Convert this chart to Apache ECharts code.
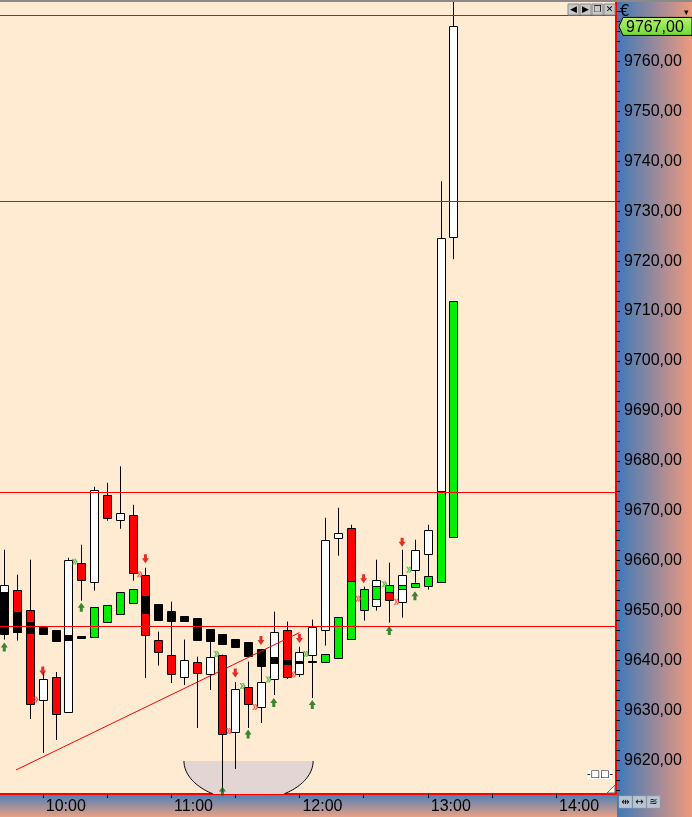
<!DOCTYPE html>
<html><head><meta charset="utf-8">
<script src="https://cdn.jsdelivr.net/npm/echarts@6/dist/echarts.min.js"></script>
<style>html,body{margin:0;padding:0;background:#fff}#c{width:692px;height:817px}</style>
</head><body><div id="c"></div>
<script>
// ---- data ----
const times = ["09:42","09:48","09:54","10:00","10:06","10:12","10:18","10:24","10:30","10:36","10:42","10:48","10:54","11:00","11:06","11:12","11:18","11:24","11:30","11:36","11:42","11:48","11:54","12:00","12:06","12:12","12:18","12:24","12:30","12:36","12:42","12:48","12:54","13:00","13:06","13:12"];
const opens  = [9645.6,9654.2,9650.2,9632.1,9636.7,9629.7,9659.6,9655.8,9673.2,9668.2,9669.2,9657.2,9644.2,9641.2,9636.7,9639.8,9637.3,9641.2,9625.7,9634.7,9630.7,9636.3,9646.2,9637.3,9641.2,9646.2,9664.6,9666.6,9650.5,9651.0,9655.2,9651.8,9658.2,9661.4,9655.8,9724.8];
const closes = [9655.2,9645.8,9631.3,9636.3,9629.3,9660.2,9656.2,9674.2,9668.6,9669.6,9657.6,9645.2,9641.8,9637.3,9640.2,9637.5,9640.8,9625.3,9634.3,9631.3,9635.7,9645.8,9636.7,9641.8,9646.8,9664.2,9665.6,9644.4,9650.3,9656.2,9652.2,9657.2,9662.2,9666.2,9724.6,9767.0];
const lows   = [9644.2,9644.0,9628.3,9621.5,9624.1,9629.7,9652.0,9654.0,9668.0,9666.4,9656.0,9636.5,9639.0,9635.5,9635.1,9626.5,9634.1,9613.7,9618.3,9626.5,9627.5,9633.1,9636.3,9636.7,9632.5,9643.0,9661.0,9644.4,9648.0,9650.0,9647.6,9648.6,9655.6,9654.2,9655.8,9720.4];
const highs  = [9662.2,9657.2,9660.2,9637.7,9637.7,9660.6,9663.2,9674.8,9675.6,9678.9,9671.2,9658.6,9645.8,9651.8,9644.2,9640.8,9644.0,9641.2,9635.7,9639.8,9639.0,9649.8,9647.8,9642.8,9648.2,9668.6,9670.6,9667.2,9654.8,9660.2,9659.6,9662.2,9664.2,9667.2,9736.0,9773.0];
const boxOpens  = [9653.8,9649.8,9647.8,9646.8,9646.2,9645.2,9645.0,9644.8,9647.8,9649.4,9651.6,9653.0,9651.4,9650.0,9649.0,9648.6,9646.4,9645.4,9644.4,9643.8,9642.4,9640.8,9640.2,9640.0,9639.9,9639.8,9640.6,9644.4,9650.2,9652.4,9653.8,9654.4,9654.8,9655.0,9655.8,9664.8];
const boxCloses = [9645.4,9645.8,9645.6,9645.4,9644.0,9644.2,9644.6,9650.8,9651.2,9653.8,9654.4,9649.6,9648.2,9648.0,9648.0,9644.2,9644.0,9643.4,9642.8,9641.0,9639.0,9639.6,9639.4,9639.6,9639.7,9641.4,9648.8,9656.0,9654.4,9655.0,9655.2,9655.2,9655.6,9657.0,9674.0,9712.1];
const levelLines = [9769.3, 9732.0, 9673.8, 9647.0];
const trendLineTimes = ["09:47.5","12:00"];
const trendLinePrices = [9618.1, 9645.6];
const downArrowTimes = ["10:00","10:48","11:30","11:42","12:00","12:30","12:48"];
const downArrowPrices = [9637.9,9660.4,9637.5,9644.0,9644.4,9656.4,9663.7];
const upArrowTimes = ["09:42","10:18","11:24","11:36","11:48","12:06","12:42","12:54"];
const upArrowPrices = [9642.7,9650.7,9613.9,9625.3,9631.6,9631.2,9646.0,9653.0];
const greenMarkTimes = [614.9,681.3,693.4,705.6,723.1,759.8,771.3];
const greenMarkPrices = [9659.8,9641.3,9634.9,9636.2,9641.3,9655.3,9658.2];
const redMarkTimes = [596.6,645.3,687.1,699.3,717.3,747.5,765.5];
const redMarkPrices = [9632.2,9657.3,9625.9,9630.7,9637.2,9652.4,9651.8];
const bowl = {center: 696.2, level: 9619.9, halfWidth: 30.2, depth: 7.9};
const xTickLabels = ["10:00","11:00","12:00","13:00","14:00"];
const xMinorTicks = ["10:00","10:30","11:00","11:30","12:00","12:30","13:00","13:30","14:00"];
const yTickLabels = [9620,9630,9640,9650,9660,9670,9680,9690,9700,9710,9720,9730,9740,9750,9760];
const lastPrice = 9767.0;
const xMin = 580, xMax = 868, yMin = 9613.28, yMax = 9771.89;

// ---- helpers ----
function toMin(s){ const [h,m] = s.split(':'); return (+h)*60 + parseFloat(m); }
function fmtTime(v){ const h=Math.floor(v/60), m=Math.round(v%60); return (h<10?'0':'')+h+':'+(m<10?'0':'')+m; }
function fmtPrice(v){ return v.toFixed(2).replace('.',','); }
const tVals = times.map(toMin);
const candleData = tVals.map((t,i)=>[t, opens[i], closes[i], lows[i], highs[i]]);
const boxData = tVals.map((t,i)=>[t, boxOpens[i], boxCloses[i]]);
const yMinorTicks = []; for (let v=9614; v<=9770; v+=2) yMinorTicks.push(v);

function renderCandle(params, api){
  const t=api.value(0), o=api.value(1), c=api.value(2), l=api.value(3), h=api.value(4);
  const pO=api.coord([t,o]), pC=api.coord([t,c]), pL=api.coord([t,l]), pH=api.coord([t,h]);
  const w = api.size([6,0])[0]*0.64;
  const xc = Math.round(pO[0]);
  const top = Math.round(Math.min(pO[1],pC[1])), bot = Math.round(Math.max(pO[1],pC[1]));
  const fill = c>o ? '#ffffff' : (c<o ? '#ff0000' : '#000000');
  const x0 = Math.round(xc - w/2) + 0.5;
  return {type:'group', children:[
    {type:'line', shape:{x1:xc+0.5,y1:pH[1],x2:xc+0.5,y2:pL[1]}, style:{stroke:'#000',lineWidth:1}},
    {type:'rect', shape:{x:x0, y:top+0.5, width:Math.round(w), height:Math.max(bot-top,1)}, style:{fill:fill, stroke:'#000', lineWidth:1}}
  ]};
}
function renderBox(params, api){
  const t=api.value(0), o=api.value(1), c=api.value(2);
  const pO=api.coord([t,o]), pC=api.coord([t,c]);
  const w = api.size([6,0])[0]*0.64;
  const xc = Math.round(pO[0]);
  const top = Math.round(Math.min(pO[1],pC[1])), bot = Math.round(Math.max(pO[1],pC[1]));
  const fill = c>o ? '#00ee00' : '#000000';
  const x0 = Math.round(xc - w/2) + 0.5;
  return {type:'rect', shape:{x:x0, y:top+0.5, width:Math.round(w), height:Math.max(bot-top,1)}, style:{fill:fill, stroke:'#000', lineWidth:1}};
}
function renderLevel(params, api){
  const p = api.coord([api.value(0), api.value(1)]);
  const y = Math.round(p[1]) + 0.5;
  const cs = params.coordSys;
  return {type:'line', shape:{x1:cs.x, y1:y, x2:cs.x+cs.width, y2:y}, style:{stroke:'#ff0000', lineWidth:1}};
}
function renderBowl(params, api){
  const cx=api.value(0), cy=api.value(1), a=api.value(2), b=api.value(3);
  const pts=[], segs=[]; let cur=[];
  for (let k=0;k<=80;k++){
    const th=Math.PI*k/80;
    const t=cx - a*Math.cos(th); let p=cy - b*Math.sin(th);
    const clamped = p < yMin; if (clamped) p = yMin;
    const pt=api.coord([t,p]); pts.push(pt);
    if (!clamped) cur.push(pt); else { if (cur.length>1) segs.push(cur); cur=[]; }
  }
  if (cur.length>1) segs.push(cur);
  const children=[{type:'polygon', shape:{points:pts}, style:{fill:'#e3d5d4'}}];
  segs.forEach(s=>children.push({type:'polyline', shape:{points:s}, style:{stroke:'#000', lineWidth:1, fill:null}}));
  return {type:'group', children};
}

const downPath = 'path://M2,0L5,0L5,4L7,4L3.5,9L0,4L2,4Z';
const upPath = 'path://M3.5,0L7,5L5,5L5,9L2,9L2,5L0,5Z';
const chevPath = 'path://M0,0L2,0L4.5,3.5L2,7L0,7L2.5,3.5Z M3,0L5,0L7.5,3.5L5,7L3,7L5.5,3.5Z';

const chart = echarts.init(document.getElementById('c'), null, {renderer:'canvas'});
const FONT = 'Liberation Sans';
const option = {
  animation:false,
  backgroundColor:'#ffffff',
  grid:{left:0, right:76, top:2, bottom:23, show:true, backgroundColor:'#ffebd1', borderWidth:0, containLabel:false},
  xAxis:{type:'value', min:xMin, max:xMax, splitLine:{show:false},
    axisLine:{show:true, onZero:false, lineStyle:{color:'#ff0000', width:2}},
    axisTick:{show:true, length:4, lineStyle:{color:'#000'}, customValues: xMinorTicks.map(toMin)},
    axisLabel:{show:true, customValues: xTickLabels.map(toMin), formatter:v=>fmtTime(v), align:'left', padding:[0,0,0,3], margin:5, color:'#000', fontFamily:FONT, fontSize:16}
  },
  yAxis:{type:'value', position:'right', min:yMin, max:yMax, scale:true, splitLine:{show:false},
    axisLine:{show:true, lineStyle:{color:'#ff0000', width:2}},
    axisTick:{show:true, length:4, lineStyle:{color:'#000'}, customValues: yMinorTicks},
    axisLabel:{show:true, customValues: yTickLabels, formatter:v=>fmtPrice(v), margin:8, color:'#000', fontFamily:FONT, fontSize:16}
  },
  series:[
    {type:'custom', name:'bowl', renderItem:renderBowl, data:[[bowl.center, bowl.level, bowl.halfWidth, bowl.depth]], encode:{x:0,y:1}, z:1, silent:true, clip:true},
    {type:'custom', name:'candles', renderItem:renderCandle, data:candleData, encode:{x:0, y:[1,2,3,4]}, z:3, silent:true, clip:true},
    {type:'custom', name:'boxes', renderItem:renderBox, data:boxData, encode:{x:0, y:[1,2]}, z:4, silent:true, clip:true},
    {type:'custom', name:'levels', renderItem:renderLevel, data:levelLines.map(v=>[xMin, v]), encode:{x:0, y:1}, z:5, silent:true, clip:true},
    {type:'line', name:'trend', data:trendLineTimes.map((t,i)=>[toMin(t), trendLinePrices[i]]), symbol:'none', lineStyle:{color:'#ff0000', width:1}, z:5, silent:true},
    {type:'scatter', name:'down', data:downArrowTimes.map((t,i)=>[toMin(t), downArrowPrices[i]]), symbol:downPath, symbolSize:[7,9], itemStyle:{color:'#d80000'}, z:6, silent:true},
    {type:'scatter', name:'up', data:upArrowTimes.map((t,i)=>[toMin(t), upArrowPrices[i]]), symbol:upPath, symbolSize:[7,9], itemStyle:{color:'#0a6a0a'}, z:6, silent:true},
    {type:'scatter', name:'gmark', data:greenMarkTimes.map((t,i)=>[t, greenMarkPrices[i]]), symbol:chevPath, symbolSize:[6,6], itemStyle:{color:'#2aa82a', opacity:0.75}, z:6, silent:true},
    {type:'scatter', name:'rmark', data:redMarkTimes.map((t,i)=>[t, redMarkPrices[i]]), symbol:chevPath, symbolSize:[6,6], itemStyle:{color:'#ff3030', opacity:0.75}, z:6, silent:true}
  ],
  graphic:[
    {type:'rect', z:-5, shape:{x:617, y:0, width:75, height:817}, style:{fill:new echarts.graphic.LinearGradient(0,0,1,0,[{offset:0,color:'#4079b8'},{offset:1,color:'#ee9a7e'}])}},
    {type:'rect', z:-5, shape:{x:0, y:795, width:617, height:22}, style:{fill:new echarts.graphic.LinearGradient(0,0,0,1,[{offset:0,color:'#5080b6'},{offset:1,color:'#e8a084'}])}},
    {type:'rect', z:10, shape:{x:0, y:0, width:692, height:2}, style:{fill:'#8a8a8a'}},
    {type:'text', z:10, left:620, top:5, style:{text:'€', font:'15px "DejaVu Sans"', fill:'#000'}},
    {type:'text', z:10, left:684, top:8, style:{text:'▾', font:'9px "DejaVu Sans"', fill:'#000'}}
  ]
};
chart.setOption(option);

// window buttons, icons and current price tag
const g = [];
const btnGlyphs = ['◀','▶','❐','✕'];
btnGlyphs.forEach((s,i)=>{
  const bx = 568 + i*12;
  g.push({type:'rect', z:12, shape:{x:bx, y:4, width:11, height:11}, style:{fill:'#c8c8c8', stroke:'#8a8a8a', lineWidth:1}});
  g.push({type:'text', z:13, x:bx+5.5, y:9.5, style:{text:s, font:'9px "DejaVu Sans"', fill:'#000', align:'center', verticalAlign:'middle'}});
});
g.push({type:'rect', z:12, shape:{x:588, y:770, width:24, height:9}, style:{fill:'#ffffff'}});
g.push({type:'text', z:13, x:600, y:774.5, style:{text:'-□□-', font:'10px "DejaVu Sans"', fill:'#000', align:'center', verticalAlign:'middle'}});
g.push({type:'polygon', z:12, shape:{points:[[607,793],[615,785],[615,793]]}, style:{fill:'#ffffff', stroke:'#666', lineWidth:1}});
['⇹','↔','≋'].forEach((s,i)=>{
  const bx = 619 + i*14;
  g.push({type:'rect', z:12, shape:{x:bx, y:796, width:13, height:12}, style:{fill:'#b9c4d2', stroke:'#9aa', lineWidth:0.5}});
  g.push({type:'text', z:13, x:bx+6.5, y:802, style:{text:s, font:'10px "DejaVu Sans"', fill:'#000', align:'center', verticalAlign:'middle'}});
});
const py = chart.convertToPixel({yAxisIndex:0}, lastPrice);
g.push({type:'polygon', z:12, shape:{points:[[619,py],[623,py-9],[692,py-9],[692,py+9],[623,py+9]]},
  style:{fill:new echarts.graphic.LinearGradient(0,0,0,1,[{offset:0,color:'#b6f46a'},{offset:1,color:'#6fd83a'}]), stroke:'#000', lineWidth:1}});
g.push({type:'text', z:13, x:626, y:py+1, style:{text:fmtPrice(lastPrice), font:'16px "Liberation Sans"', fill:'#000', verticalAlign:'middle'}});
chart.setOption({graphic: option.graphic.concat(g)});
</script>
</body></html>
